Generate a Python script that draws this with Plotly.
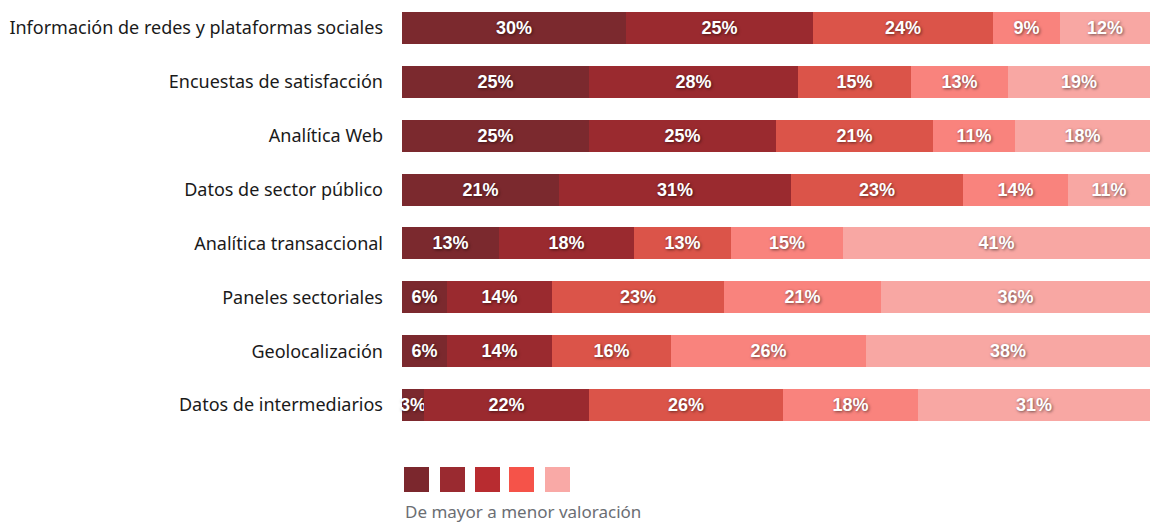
import plotly.graph_objects as go

# Sources of information and their share of ratings, from highest to lowest
categories = [
    "Información de redes y plataformas sociales",
    "Encuestas de satisfacción",
    "Analítica Web",
    "Datos de sector público",
    "Analítica transaccional",
    "Paneles sectoriales",
    "Geolocalización",
    "Datos de intermediarios",
]

level_1 = [30, 25, 25, 21, 13, 6, 6, 3]
level_2 = [25, 28, 25, 31, 18, 14, 14, 22]
level_3 = [24, 15, 21, 23, 13, 23, 16, 26]
level_4 = [9, 13, 11, 14, 15, 21, 26, 18]
level_5 = [12, 19, 18, 11, 41, 36, 38, 31]

levels = [level_1, level_2, level_3, level_4, level_5]
bar_colors = ["#7B292E", "#9A2A2F", "#DB5449", "#F9837D", "#F8A7A3"]
legend_colors = ["#7B272D", "#9A2A30", "#B82C30", "#F55349", "#F9A9A6"]
legend_caption = "De mayor a menor valoración"

W, H = 1150, 524
ML, MR, MT, MB = 402, 0, 1, 92

fig = go.Figure()
for vals, col in zip(levels, bar_colors):
    fig.add_trace(go.Bar(
        y=categories,
        x=vals,
        orientation="h",
        marker=dict(color=col, line=dict(width=0)),
        width=0.595,
        text=[f"{v}%" for v in vals],
        textposition="inside",
        insidetextanchor="middle",
        textangle=0,
        constraintext="none",
        cliponaxis=False,
        textfont=dict(family="Liberation Sans, Arial, sans-serif", size=18,
                      color="white", weight="bold",
                      shadow="1px 1px 3px rgba(0,0,0,0.55)"),
        hoverinfo="skip",
        showlegend=False,
    ))

# Legend swatches below the bars
plot_w = W - ML - MR
plot_h = H - MT - MB
sw_left = [404, 440, 475, 509, 545]
sw_size = 25
sw_top = 467
shapes = []
for x0, col in zip(sw_left, legend_colors):
    shapes.append(dict(
        type="rect", xref="paper", yref="paper",
        x0=(x0 - ML) / plot_w, x1=(x0 + sw_size - ML) / plot_w,
        y0=(H - MB - (sw_top + sw_size)) / plot_h, y1=(H - MB - sw_top) / plot_h,
        fillcolor=col, line=dict(width=0), layer="above",
    ))

fig.update_layout(
    width=W, height=H,
    margin=dict(l=ML, r=MR, t=MT, b=MB, pad=0),
    barmode="stack",
    bargap=0,
    plot_bgcolor="white",
    paper_bgcolor="white",
    uniformtext=dict(minsize=18, mode="show"),
    xaxis=dict(range=[0, 100], visible=False, fixedrange=True),
    yaxis=dict(
        autorange="reversed",
        showgrid=False, zeroline=False, showline=False, ticks="",
        ticklabelstandoff=18,
        tickfont=dict(family="Noto Sans, sans-serif", size=18, color="#1a1a1a"),
    ),
    shapes=shapes,
    annotations=[dict(
        text=legend_caption, xref="paper", yref="paper",
        x=(403 - ML) / plot_w, y=(H - MB - 511) / plot_h,
        xanchor="left", yanchor="middle", showarrow=False,
        font=dict(family="Noto Sans, sans-serif", size=17, color="#6b6e73"),
    )],
)

fig.write_html("out.html")
